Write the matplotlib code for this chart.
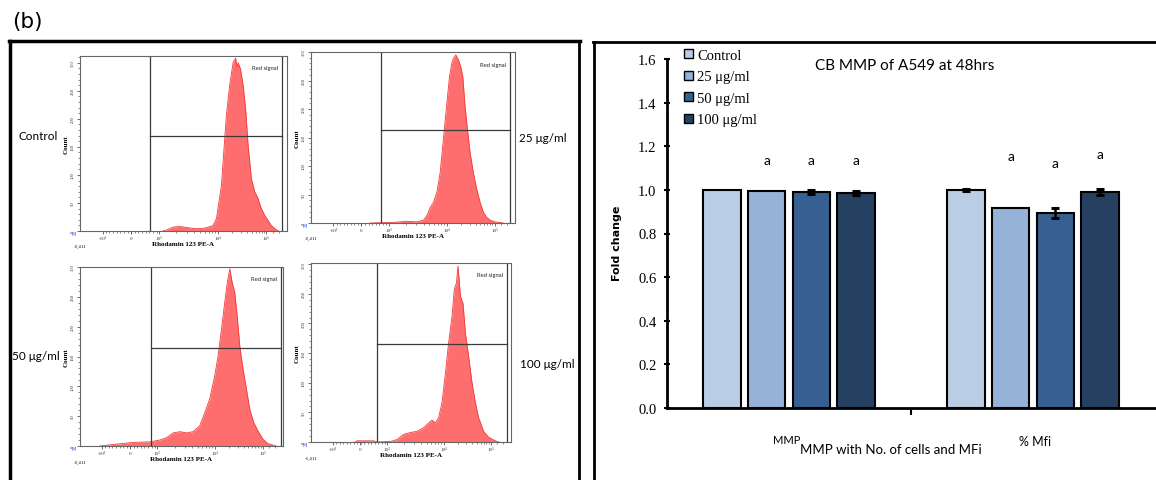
import matplotlib
matplotlib.use("Agg")
import matplotlib.pyplot as plt
from matplotlib.lines import Line2D
from matplotlib.ticker import FixedLocator, MultipleLocator
import numpy as np

W, H = 1156, 481

# ---------------- flow cytometry histograms (x: % of display axis, y: count) ----------------
ctrl_x = [40, 42, 45, 48, 52, 56, 60, 63, 64.3, 65.9, 68.3, 70.7, 72.3, 74.0, 75.2, 75.9, 76.4, 77.5,
          78.8, 80.0, 81.2, 82.8, 84.4, 86.0, 87.6, 89.2, 90.8, 92.4, 94.9, 96]
ctrl_y = [0, 2, 7, 8, 6, 4, 5, 8, 10, 22, 81, 206, 260, 301, 308, 292, 300, 289,
          260, 218, 153, 93, 70, 58, 40, 28, 19, 10, 2, 0]

x25 = [29, 40, 47, 52, 55.1, 56.8, 58.4, 60.0, 61.7, 63.3, 64.9, 66.6, 67.9, 69.0, 69.8, 71.0, 72.3,
       73.4, 74.4, 75.5, 76.7, 78.0, 79.6, 81.2, 82.9, 84.5, 86.1, 87.8, 90.2, 94.3]
y25 = [0, 1, 3, 2, 5, 13, 27, 36, 54, 88, 147, 211, 257, 280, 289, 295, 286,
       274, 257, 205, 164, 123, 88, 60, 36, 19, 10, 5, 2, 0]

x50 = [9.8, 14.8, 26.2, 34.4, 39.3, 42.6, 45.9, 49.2, 52.5, 55.7, 59.0, 61.5, 63.9, 66.4, 68.0, 69.7,
       71.3, 72.6, 73.8, 74.9, 76.2, 77.4, 78.7, 80.3, 82.0, 83.6, 85.6, 87.7, 90.2, 92.6, 96.7]
y50 = [0, 2, 6, 7, 10, 14, 22, 24, 22, 24, 34, 56, 79, 118, 151, 196,
       241, 275, 297, 275, 258, 219, 168, 129, 95, 62, 39, 25, 11, 4, 0]

x100 = [22, 23, 31.3, 33, 39.7, 43.0, 46.3, 49.7, 53.0, 56.3, 58.8, 60.5, 62.2, 63.8, 65.5, 67.2,
        68.8, 70.5, 71.7, 72.7, 73.5, 74.7, 76.0, 77.2, 78.8, 80.5, 82.2, 83.8, 86.3, 88.8, 92.2, 94]
y100 = [0, 2, 2, 0, 1, 4, 13, 16, 18, 24, 32, 37, 32, 41, 66, 116,
        167, 212, 259, 268, 297, 246, 234, 184, 145, 100, 66, 41, 18, 8, 2, 0]

hist_labels = ["Control", "25 μg/ml", "50 μg/ml", "100 μg/ml"]
hist_xticks = [11, 24.5, 38, 66.5, 90]
hist_xticklabels = ["-10³", "0", "10³", "10⁴", "10⁵"]
hist_yticks = [0, 50, 100, 150, 200, 250, 300]
hist_left_labels = ["-2,411", "-2,411", "-2,411", "-1,411"]

# ---------------- bar chart ----------------
bar_groups = ["MMP with No. of cells and MFi", "% Mfi"]
series_names = ["Control", "25 μg/ml", "50 μg/ml", "100 μg/ml"]
mmp_cells = [1.000, 0.995, 0.990, 0.985]
mmp_cells_err = [0.0, 0.0, 0.010, 0.010]
pct_mfi = [1.000, 0.915, 0.895, 0.990]
pct_mfi_err = [0.006, 0.0, 0.024, 0.012]
sig_mmp = ["", "a", "a", "a"]
sig_mmp_y = [np.nan, 1.139, 1.139, 1.139]
sig_mfi = ["", "a", "a", "a"]
sig_mfi_y = [np.nan, 1.154, 1.123, 1.165]
bar_colors = ["#B9CDE5", "#95B3D7", "#376092", "#254061"]

fig = plt.figure(figsize=(W / 100, H / 100), dpi=100)
fig.patch.set_facecolor("white")


def box(x0, y0, x1, y1):
    return [x0 / W, 1 - y1 / H, (x1 - x0) / W, (y1 - y0) / H]


def ftxt(x, y, s, **kw):
    fig.text(x / W, 1 - y / H, s, **kw)


def fline(xs, ys, **kw):
    fig.add_artist(Line2D([x / W for x in xs], [1 - y / H for y in ys], **kw))


# panel borders
fline([10, 10], [42, 485], color="black", lw=2.5)
fline([9, 580], [42, 42], color="black", lw=2.5)
fline([579, 579], [42, 485], color="black", lw=2.0)
fline([594, 594], [43, 485], color="black", lw=2.0)
fline([593, 1156], [43, 43], color="black", lw=2.0)

ftxt(12, 22, "(b)", fontsize=15.5, family="DejaVu Sans", va="center", ha="left")

NARROW = ["Liberation Sans Narrow", "Lato", "DejaVu Sans"]

minor_x = list(np.linspace(12.5, 37, 15)) + [38 + 28.5 * np.log10(k) for k in range(2, 10)] + \
          [66.5 + 23.5 * np.log10(k) for k in range(2, 10)] + [93, 96]


def hist_panel(px, xs, ys, ymax, gate, right, left_lbl):
    ax = fig.add_axes(box(*px))
    ax.fill_between(xs, ys, 0, color="#FF6E6E", lw=0)
    ax.plot(xs, ys, color="#F23A3A", lw=0.6)
    ax.set_xlim(0, 100)
    ax.set_ylim(0, ymax)
    ax.plot([gate, gate], [0, ymax], color="#3a3a3a", lw=0.9)
    ax.plot([right, right], [0, ymax], color="#3a3a3a", lw=0.9)
    ax.plot([gate, right], [0.545 * ymax] * 2, color="#3a3a3a", lw=0.9)
    ax.text(right - 2, 0.95 * ymax, "Red signal", ha="right", va="top", fontsize=4.2,
            family=NARROW, color="#222")
    for s in ax.spines.values():
        s.set_color("#666")
        s.set_linewidth(0.8)
    ax.set_xticks(hist_xticks)
    ax.set_xticklabels(hist_xticklabels, fontsize=3.6, family="Liberation Serif")
    ax.xaxis.set_minor_locator(FixedLocator(minor_x))
    ax.set_yticks(hist_yticks)
    ax.set_yticklabels([str(v) for v in hist_yticks], fontsize=3.4, family="Liberation Serif",
                       rotation=90, va="center")
    ax.yaxis.set_minor_locator(MultipleLocator(10))
    ax.tick_params(which="major", length=2.5, width=0.5, pad=1, colors="#333")
    ax.tick_params(which="minor", length=1.5, width=0.4, colors="#333")
    ax.set_ylabel("Count", fontsize=5, fontweight="bold", family="Liberation Serif", labelpad=1.5)
    ax.set_xlabel("Rhodamin 123 PE-A", fontsize=5, fontweight="bold", family="Liberation Serif",
                  labelpad=0.5)
    ax.text(0, -0.075, left_lbl, transform=ax.transAxes, fontsize=3.6, family="Liberation Serif",
            ha="center", va="top")
    ax.text(-0.02, -0.015, "M", transform=ax.transAxes, fontsize=3.6, color="#3355ff",
            ha="right", va="center")
    return ax


hist_panel((80, 57, 287, 232), ctrl_x, ctrl_y, 312, 33.8, 97.6, hist_left_labels[0])
hist_panel((311, 53, 515, 224), x25, y25, 298, 34.3, 97.5, hist_left_labels[1])
hist_panel((80, 268, 283, 447), x50, y50, 300, 35.0, 99.0, hist_left_labels[2])
hist_panel((311, 264, 511, 443), x100, y100, 302, 33.0, 98.0, hist_left_labels[3])

ftxt(38, 137, hist_labels[0], fontsize=8.5, family=NARROW, ha="center", va="center")
ftxt(543, 139, hist_labels[1], fontsize=8.5, family=NARROW, ha="center", va="center")
ftxt(36, 356, hist_labels[2], fontsize=8.5, family=NARROW, ha="center", va="center")
ftxt(547, 365, hist_labels[3], fontsize=8.5, family=NARROW, ha="center", va="center")

# ---------------- bar chart ----------------
ax = fig.add_axes(box(667, 60, 1155, 409))
step, width = 0.183, 0.152
centers = np.arange(len(bar_groups)) + 0.5
for i, name in enumerate(series_names):
    vals = np.array([mmp_cells[i], pct_mfi[i]])
    errs = np.array([mmp_cells_err[i], pct_mfi_err[i]])
    xs = centers + (i - 1.5) * step
    ax.bar(xs, vals, width, color=bar_colors[i], edgecolor="black", linewidth=1.5, label=name,
           zorder=2)
    m = errs > 0
    if m.any():
        ax.errorbar(xs[m], vals[m], yerr=errs[m], fmt="none", ecolor="black", elinewidth=1.8,
                    capsize=3.2, capthick=2.2, zorder=3)
    for xx, txt, yy in zip(xs, [sig_mmp[i], sig_mfi[i]], [sig_mmp_y[i], sig_mfi_y[i]]):
        if txt:
            ax.text(xx, yy, txt, ha="center", va="center", fontsize=10, family="Lato")

ax.set_xlim(0, 2)
ax.set_ylim(0, 1.6)
ax.spines["top"].set_visible(False)
ax.spines["right"].set_visible(False)
ax.spines["left"].set_linewidth(2)
ax.spines["bottom"].set_linewidth(2)
ax.set_xticks([1.0])
ax.set_xticklabels([""])
ax.tick_params(axis="x", direction="out", length=5, width=1.5)
ax.set_yticks(np.arange(0, 1.61, 0.2))
ax.set_yticklabels(["%.1f" % v for v in np.arange(0, 1.61, 0.2)], fontsize=10.5,
                   family="Liberation Serif")
ax.tick_params(axis="y", direction="inout", length=5, width=1.5, pad=5)

leg = ax.legend(loc="upper left", bbox_to_anchor=(684 / W, 1 - 50 / H), bbox_transform=fig.transFigure,
                frameon=False, prop=dict(family="Liberation Serif", size=10.5), handlelength=0.6,
                handleheight=0.6, handletextpad=0.3, labelspacing=0.58, borderpad=0,
                borderaxespad=0)
for p in leg.get_patches():
    p.set_linewidth(1.0)

ftxt(905, 66, "CB MMP of A549 at 48hrs", fontsize=11, family="Lato", ha="center", va="center")
ftxt(617, 243, "Fold change", fontsize=8, fontweight="bold", family="DejaVu Sans", rotation=90,
     ha="center", va="center")
ftxt(787, 441, "MMP", fontsize=8, family="Lato", ha="center", va="center")
ftxt(891, 450, bar_groups[0], fontsize=9.5, family="Lato", ha="center", va="center")
ftxt(1035, 442, bar_groups[1], fontsize=9, family="Lato", ha="center", va="center")

fig.savefig("out.png", dpi=100, facecolor="white")
